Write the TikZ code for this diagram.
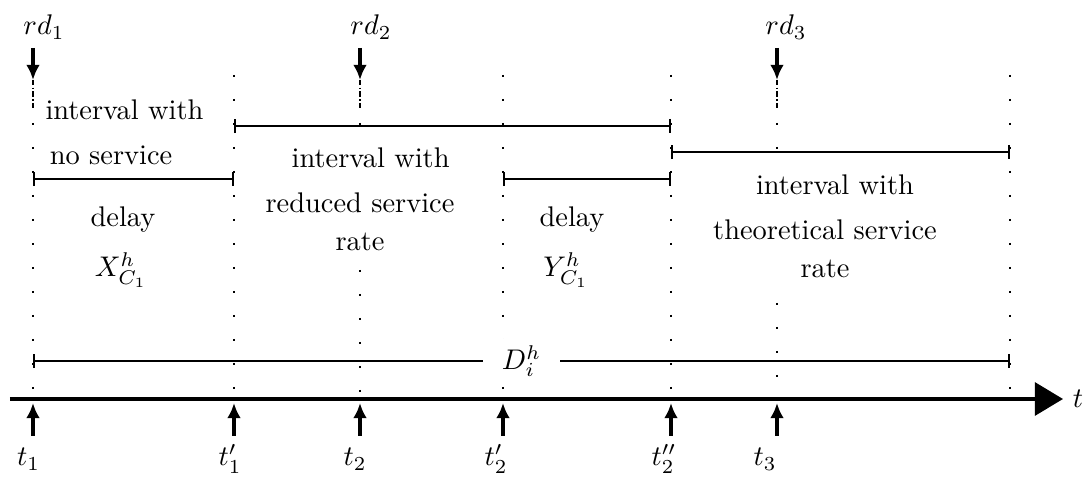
\documentclass[tikz,border=0pt]{standalone}
\usetikzlibrary{arrows.meta}
\begin{document}
\begin{tikzpicture}[x=0.3521pt, y=-0.3521pt,
  guide/.style={line width=0.75pt, dash pattern=on 0.75pt off 7.7pt},
  rdtail/.style={line width=0.45pt, dash pattern=on 1.8pt off 0.9pt on 0.45pt off 0.9pt},
  span/.style={line width=0.7pt, {Bar[width=5pt]}-{Bar[width=5pt]}},
  evarrow/.style={line width=1.4pt, -{Latex[length=5.3pt, width=4.8pt]}},
  axis/.style={line width=1.2pt, -{Triangle[length=9.9pt, width=11.6pt]}},
  lbl/.style={inner sep=0pt, anchor=base},
  block/.style={align=center, inner sep=3pt, font=\fontsize{10}{13.3}\selectfont},
]
\useasboundingbox (0,0) rectangle (1084,477);

% vertical dotted guide lines
\foreach \n/\x in {a/33,b/234,d/503,e/671,g/1010}{
  \coordinate (\n top) at (\x,75);
  \coordinate (\n bot) at (\x,410);
  \draw[guide] (\n top) -- (\n bot);
}
\coordinate (c top) at (360,75);  \coordinate (c mid) at (360,125);
\coordinate (c low) at (360,270); \coordinate (c bot) at (360,400);
\draw[guide] (c top) -- (c mid);
\draw[guide] (c low) -- (c bot);
\coordinate (f top) at (777,75);  \coordinate (f mid) at (777,150);
\coordinate (f low) at (777,303); \coordinate (f bot) at (777,400);
\draw[guide] (f top) -- (f mid);
\draw[guide] (f low) -- (f bot);

% interval bars
\coordinate (s1a) at (33,179);  \coordinate (s1b) at (234,179);
\coordinate (s2a) at (234,126); \coordinate (s2b) at (671,126);
\coordinate (s3a) at (503,179); \coordinate (s3b) at (671,179);
\coordinate (s4a) at (671,152); \coordinate (s4b) at (1010,152);
\coordinate (s5a) at (33,361);  \coordinate (s5b) at (1010,361);
\draw[span] (s1a) -- (s1b);
\draw[span] (s2a) -- (s2b);
\draw[span] (s3a) -- (s3b);
\draw[span] (s4a) -- (s4b);
\draw[span] (s5a) -- node[fill=white, inner xsep=6.7pt, inner ysep=2.3pt] (D) {$D_i^h$} (s5b);

% text blocks
\node[block] (nos) at (111,132) {\hspace*{9.5pt}interval with\\[2.5pt]no service};
\node[block, fill=white] (red) at (360,199) {\hspace*{7.5pt}interval with\\[2.5pt]reduced service\\rate};
\node[block, fill=white] (theo) at (825,226) {\hspace*{7pt}interval with\\[2.5pt]theoretical service\\rate};
\node[lbl] (dx) at (123,227) {delay};
\node[lbl] (xc) at (121,277) {$X^h_{C_1}$};
\node[lbl] (dy) at (572,227) {delay};
\node[lbl] (yc) at (566,277) {$Y^h_{C_1}$};

% rd arrows
\foreach \n/\x/\lx in {1/33/44,2/360/371,3/777/786}{
  \coordinate (rd\n s) at (\x,48);
  \coordinate (rd\n e) at (\x,80);
  \coordinate (rd\n t) at (\x,110);
  \draw[rdtail] (rd\n e) -- (rd\n t);
  \draw[evarrow] (rd\n s) -- (rd\n e);
  \node[lbl] (rd\n) at (\lx,35) {$rd_\n$};
}

% time axis
\coordinate (ax0) at (10,399);
\coordinate (ax1) at (1063,399);
\draw[axis] (ax0) -- (ax1);
\node[inner sep=0pt] (tt) at (1078,399) {$t$};

% time instants
\foreach \n/\x/\lx/\lab in {1/33/28.5/{t_1},2/234/230/{t'_1},3/360/355/{t_2},4/503/496/{t'_2},5/671/664/{t''_2},6/777/765/{t_3}}{
  \coordinate (ti\n s) at (\x,436);
  \coordinate (ti\n e) at (\x,403);
  \draw[evarrow] (ti\n s) -- (ti\n e);
  \node[lbl] (tl\n) at (\lx,466) {$\lab$};
}
\end{tikzpicture}
\end{document}
